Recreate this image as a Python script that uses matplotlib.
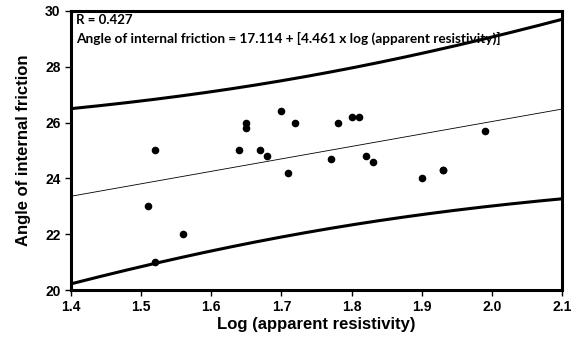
import numpy as np
import matplotlib.pyplot as plt

# Data
log_res = [1.51, 1.52, 1.52, 1.56, 1.64, 1.65, 1.65, 1.67, 1.68, 1.70, 1.71,
           1.72, 1.77, 1.78, 1.80, 1.81, 1.82, 1.83, 1.90, 1.93, 1.93, 1.99]
friction = [23.0, 25.0, 21.0, 22.0, 25.0, 26.0, 25.8, 25.0, 24.8, 26.4, 24.2,
            26.0, 24.7, 26.0, 26.2, 26.2, 24.8, 24.6, 24.0, 24.3, 24.3, 25.7]
intercept = 17.114
slope = 4.461

x = np.array(log_res)
y = np.array(friction)
n = len(x)

# Regression line and 95% prediction band
xs = np.linspace(1.4, 2.1, 200)
fit = intercept + slope * xs
resid = y - (intercept + slope * x)
s = np.sqrt(np.sum(resid ** 2) / (n - 2))
sxx = np.sum((x - x.mean()) ** 2)
t = 2.086
half = t * s * np.sqrt(1 + 1 / n + (xs - x.mean()) ** 2 / sxx)

plt.rcParams['font.family'] = ['Liberation Sans', 'DejaVu Sans']
fig = plt.figure(figsize=(5.79, 3.4), dpi=100)
ax = fig.add_axes([0.1226, 0.147, 0.848, 0.821])

ax.plot(xs, fit, color='black', lw=0.6)
ax.plot(xs, fit + half, color='black', lw=2.2)
ax.plot(xs, fit - half, color='black', lw=2.2)
ax.scatter(x, y, s=20, color='black', zorder=3)

ax.set_xlim(1.4, 2.1)
ax.set_ylim(20, 30)
ax.set_xticks(np.arange(1.4, 2.11, 0.1))
ax.set_xticklabels(['1.4', '1.5', '1.6', '1.7', '1.8', '1.9', '2.0', '2.1'])
ax.set_yticks([20, 22, 24, 26, 28, 30])
for sp in ax.spines.values():
    sp.set_linewidth(2.2)
ax.tick_params(direction='out', length=4, width=1, labelsize=10)
for lab in ax.get_xticklabels() + ax.get_yticklabels():
    lab.set_fontweight('bold')

ax.set_xlabel('Log (apparent resistivity)', fontsize=12, fontweight='bold', labelpad=2)
ax.set_ylabel('Angle of internal friction', fontsize=12, fontweight='bold', labelpad=10)

ax.text(0.01, 0.99, 'R = 0.427', transform=ax.transAxes, fontsize=9.5,
        fontweight='bold', va='top', family=['Lato', 'DejaVu Sans'])
ax.text(0.01, 0.925, 'Angle of internal friction = 17.114 + [4.461 x log (apparent resistivity)]',
        transform=ax.transAxes, fontsize=9.8, fontweight='bold', va='top',
        family=['Lato', 'DejaVu Sans'])

fig.savefig('out.png', dpi=100)
